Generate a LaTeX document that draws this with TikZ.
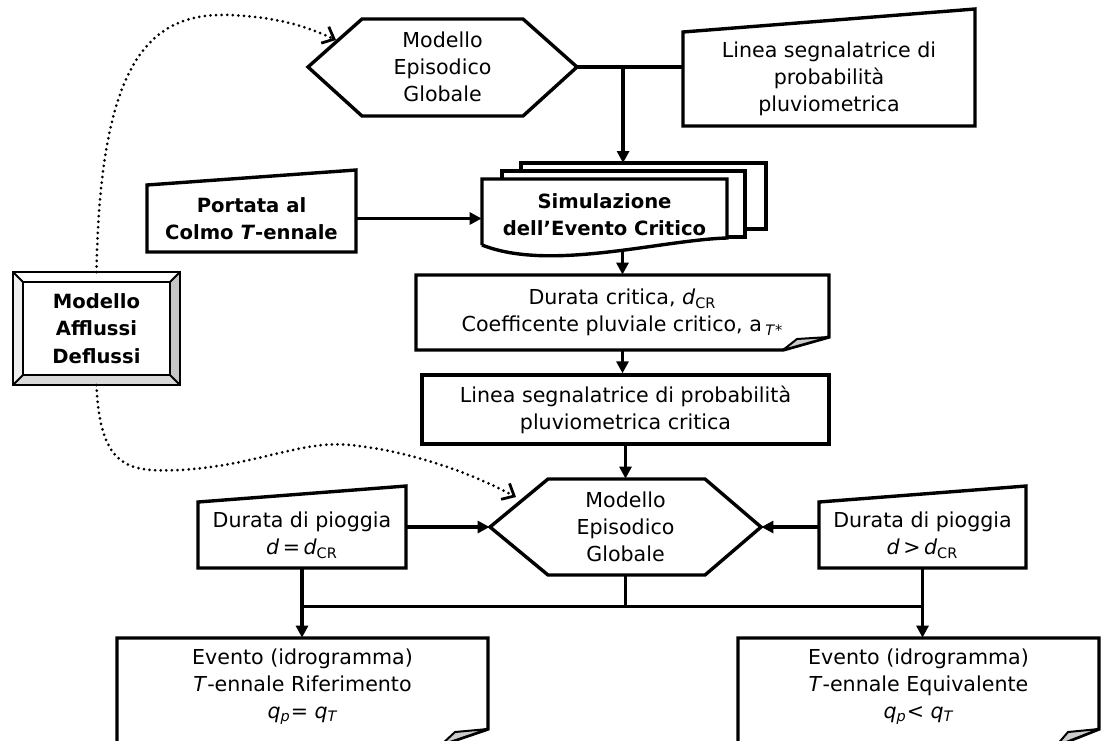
\documentclass[tikz,border=0pt]{standalone}
\usepackage{fontspec}
\setmainfont{DejaVu Sans}
\usetikzlibrary{arrows.meta}

\def\px{0.5pt} % 1 unité = 1 pixel

\tikzset{
  bord/.style={line width=1.7pt, line join=miter, fill=white},
  trait/.style={line width=1.7pt},
  fleche/.style={line width=1.7pt, -{Triangle[length=6pt,width=6pt]}},
  pointille/.style={line width=1.5pt, line cap=round, dash pattern=on 0pt off 2.8pt,
    -{Straight Barb[length=5pt,width=9pt,line width=1.4pt]}},
  pli/.style={fill=gray!40, draw, line width=1pt, line join=round},
  texte/.style={inner sep=0pt, align=center, font=\fontsize{10.3}{13.5}\selectfont},
  gras/.style={inner sep=0pt, align=center, font=\fontsize{9.8}{13.8}\selectfont\bfseries},
}

\begin{document}
\begin{tikzpicture}[x=\px,y=-\px]
\useasboundingbox (0,0) rectangle (1101,740);
\clip (0,0) rectangle (1101,740);

% Formes (coordonnées en pixels)
\draw[bord] (308,67) -- (362,19) -- (523,19) -- (577,67) -- (523,116) -- (362,116) -- cycle;
\draw[bord] (683,32) -- (975,9) -- (975,126) -- (683,126) -- cycle;
\draw[bord] (147,185) -- (356,170) -- (356,252) -- (147,252) -- cycle;
% pile de documents
\draw[bord] (521,163) rectangle (766,229);
\draw[bord] (502,171) rectangle (745,237);
\draw[bord] (482,245) -- (482,179) -- (727,179) -- (727,238)
  .. controls (660,240) and (550,272) .. (482,245);
\draw[bord] (416,275) -- (829,275) -- (829,337) -- (783,350) -- (416,350) -- cycle;
\filldraw[pli] (783,350) -- (829,337) -- (797,339) -- cycle;
\draw[bord] (490,527) -- (548,479) -- (705,479) -- (761,527) -- (705,575) -- (548,575) -- cycle;
\draw[bord] (198,502) -- (406,486) -- (406,568) -- (198,568) -- cycle;
\draw[bord] (819,502) -- (1026,486) -- (1026,568) -- (819,568) -- cycle;
\draw[bord] (117,750) -- (117,638) -- (488,638) -- (488,729) -- (441,745) -- (117,745);
\filldraw[pli] (441,745) -- (488,729) -- (455,732) -- cycle;
\draw[bord] (738,750) -- (738,638) -- (1099,638) -- (1099,729) -- (1056,746) -- (738,746);
\filldraw[pli] (1056,746) -- (1099,729) -- (1068,732) -- cycle;

% Cadre en relief
\fill[gray!45] (13,272) rectangle (180,385);
\fill[gray!30] (13,385) -- (23,375) -- (170,375) -- (180,385) -- cycle;
\fill[white] (13,272) -- (180,272) -- (170,282) -- (23,282) -- cycle;
\fill[gray!12] (13,272) -- (23,282) -- (23,375) -- (13,385) -- cycle;
\draw[line width=1.3pt] (13,272) rectangle (180,385);
\draw[line width=1.3pt, fill=white] (23,282) rectangle (170,375);
\draw[line width=1pt] (13,272) -- (23,282) (180,272) -- (170,282)
  (13,385) -- (23,375) (180,385) -- (170,375);

% Textes
\node[texte, minimum width=269*\px, minimum height=97*\px] (hexA) at (442.5,67)
  {Modello\\Episodico\\Globale};
\node[texte, minimum width=292*\px, minimum height=94*\px] (lspp) at (829,79)
  {Linea segnalatrice di\\probabilità\\pluviometrica};
\node[gras, minimum width=209*\px, minimum height=67*\px] (portata) at (251.5,218.5)
  {Portata al\\Colmo \textit{T}-ennale};
\node[gras, minimum width=245*\px, minimum height=71*\px] (sim) at (604.5,214.5)
  {Simulazione\\dell’Evento Critico};
\node[texte, minimum width=413*\px, minimum height=75*\px] (dcr) at (622.5,312.5)
  {Durata critica, \textit{d}\textsubscript{CR}\\Coefficente pluviale critico, a\,\textsubscript{\textit{T}*}};
\node[texte, draw, line width=1.7pt, minimum width=407*\px, minimum height=69*\px] (lcr) at (625.5,409.5)
  {Linea segnalatrice di probabilità\\pluviometrica critica};
\node[texte, minimum width=271*\px, minimum height=96*\px] (hexB) at (625.5,527)
  {Modello\\Episodico\\Globale};
\node[texte, minimum width=208*\px, minimum height=66*\px] (dl) at (302,535)
  {Durata di pioggia\\\textit{d}\,=\,\textit{d}\textsubscript{CR}};
\node[texte, minimum width=207*\px, minimum height=66*\px] (dr) at (922.5,535)
  {Durata di pioggia\\\textit{d}\,>\,\textit{d}\textsubscript{CR}};
\node[texte, minimum width=371*\px, minimum height=97*\px] (ev1) at (302.5,686.5)
  {Evento (idrogramma)\\\textit{T}-ennale Riferimento\\\textit{q\textsubscript{p}}= \textit{q\textsubscript{T}}};
\node[texte, minimum width=361*\px, minimum height=97*\px] (ev2) at (918.5,686.5)
  {Evento (idrogramma)\\\textit{T}-ennale Equivalente\\\textit{q\textsubscript{p}}< \textit{q\textsubscript{T}}};
\node[gras, minimum width=147*\px, minimum height=93*\px] (mad) at (96.5,328.5)
  {Modello\\Afflussi\\Deflussi};

% Liaisons
\coordinate (dos) at (643.5,163);
\draw[trait] (hexA.east) -- coordinate[pos=0.434] (jA) (hexA.east -| lspp.west);
\draw[fleche] (jA) -- (jA |- dos);
\draw[fleche] (portata.east) -- (portata.east -| sim.west);
\draw[fleche] (sim.south -| dcr.north) -- (dcr.north);
\draw[fleche] (dcr.south) -- (dcr.south |- lcr.north);
\draw[fleche] (lcr.south) -- (lcr.south |- hexB.north);
\draw[fleche] (hexB.west -| dl.east) -- (hexB.west);
\draw[fleche] (hexB.east -| dr.west) -- (hexB.east);
\draw[trait] (hexB.south) -- ++(0,31) coordinate (jB);
\draw[trait] (dl.south |- jB) -- (dr.south |- jB);
\draw[fleche] (dl.south) -- (dl.south |- ev1.north);
\draw[fleche] (dr.south) -- (dr.south |- ev2.north);

% Pointillés vers les modèles épisodiques
\coordinate (hA) at (336,40);
\coordinate (hB) at (516,497);
\draw[pointille] (mad.north |- 0,272) .. controls (100,60) and (150,12) .. (230,15)
  .. controls (280,17) and (310,28) .. (hA);
\draw[pointille] (mad.south |- 0,385) .. controls (100,470) and (130,472) .. (180,470)
  .. controls (260,465) and (300,440) .. (350,445) .. controls (420,452) and (480,478) .. (hB);
\end{tikzpicture}
\end{document}
